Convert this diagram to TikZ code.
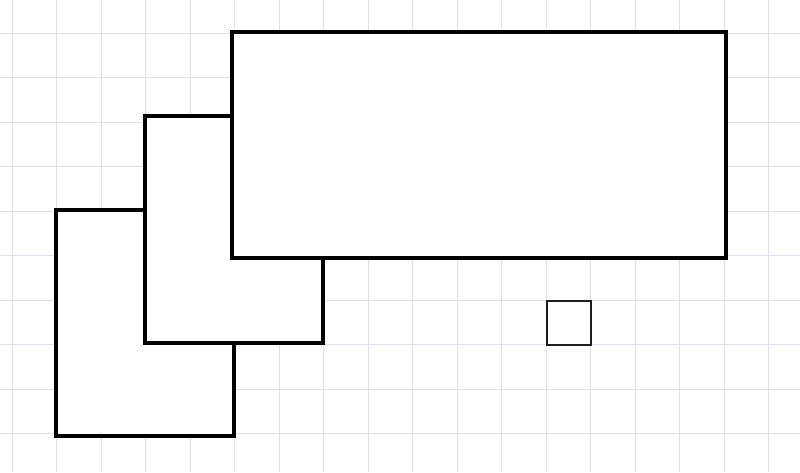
\documentclass[tikz,border=0pt]{standalone}
\definecolor{gridc}{RGB}{222,222,236}
\definecolor{sqc}{RGB}{30,30,30}
\tikzset{
  gridline/.style={draw=gridc, line width=0.75pt},
  box/.style={draw=black, fill=white, line width=2.3pt},
  smallbox/.style={draw=sqc, fill=white, line width=1.5pt},
}
\begin{document}
\begin{tikzpicture}[x=0.75pt,y=-0.75pt]
\useasboundingbox (0,0) rectangle (800,472);
\fill[white] (0,0) rectangle (800,472);
\foreach \i in {0,...,17} {
  \draw[gridline] ({12+44.5*\i},0) -- ({12+44.5*\i},472);
}
\foreach \j in {0,...,10} {
  \draw[gridline] (0,{-11.5+44.5*\j}) -- (800,{-11.5+44.5*\j});
}
\draw[box] (56,210) rectangle (234,436);
\draw[box] (145,116) rectangle (323,343);
\draw[box] (232,32) rectangle (726,258);
\draw[smallbox] (547,301) rectangle (591,345);
\end{tikzpicture}
\end{document}
